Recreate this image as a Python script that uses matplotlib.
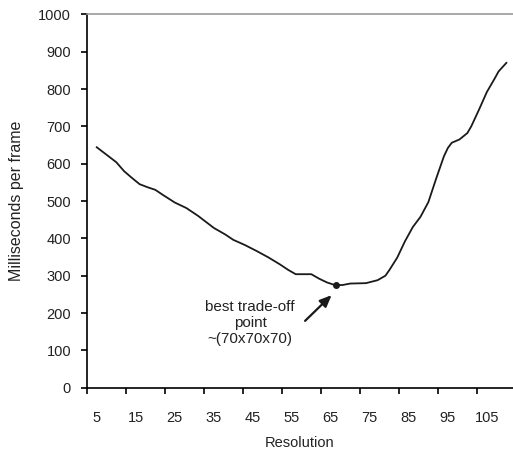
import numpy as np
import matplotlib
matplotlib.use('Agg')
import matplotlib.pyplot as plt

plt.rcParams['font.family'] = ['Liberation Sans', 'DejaVu Sans']

# values (resolution -> ms per frame)
resolution = [5, 7, 10, 12, 14, 16, 18, 20, 22, 25, 28, 31, 35, 38, 40, 43, 46, 49,
              52, 54, 56, 60, 62, 64, 66, 68, 70, 74, 77, 79, 80, 82, 84, 86, 88, 90,
              92, 93, 94, 95, 96, 98, 100, 101, 103, 105, 107, 108, 110]
ms_per_frame = [644, 628, 604, 580, 562, 545, 537, 530, 516, 496, 481, 460, 428, 410,
                396, 382, 366, 349, 330, 316, 304, 304, 292, 282, 275, 275, 279, 280,
                288, 300, 315, 348, 392, 430, 458, 497, 560, 590, 620, 642, 656, 665,
                682, 700, 745, 792, 828, 847, 870]

tick_labels = [5, 15, 25, 35, 45, 55, 65, 75, 85, 95, 105]
best_point = (66.3, 275)

fig = plt.figure(figsize=(5.13, 4.49), dpi=100)
ax = fig.add_axes([0.1696, 0.1365, 0.8304, 0.8316])

ax.plot(resolution, ms_per_frame, color='#1a1a1a', lw=1.3)
ax.plot(*best_point, 'o', color='#1a1a1a', ms=4)

ax.text(44.3, 173, 'best trade-off\npoint\n~(70x70x70)', ha='center', va='center',
        fontsize=11, color='#222222', linespacing=1.15)
ax.annotate('', xy=(65.2, 248), xytext=(58.4, 179),
            arrowprops=dict(arrowstyle='-|>,head_length=0.7,head_width=0.3',
                            color='#1a1a1a', lw=1.6, shrinkA=0, shrinkB=0))

ax.set_xlim(2.5, 111.7)
ax.set_ylim(0, 1000)

ax.set_yticks(np.arange(0, 1001, 100))
ax.tick_params(axis='y', length=4.5, width=1.2, pad=7, labelsize=10.5, labelcolor='#222222')

# category-style axis: tick marks between labels
ax.set_xticks(np.arange(2.5, 111, 10))
ax.set_xticklabels([])
ax.set_xticks(tick_labels, minor=True)
ax.set_xticklabels([str(t) for t in tick_labels], minor=True)
ax.tick_params(axis='x', which='major', length=4.5, width=1.2)
ax.tick_params(axis='x', which='minor', length=0, pad=17, labelsize=10.5, labelcolor='#222222')

ax.spines['right'].set_visible(False)
ax.spines['top'].set_color('#999999')
ax.spines['top'].set_linewidth(1.2)
ax.spines['left'].set_linewidth(1.2)
ax.spines['bottom'].set_linewidth(1.2)

ax.set_xlabel('Resolution', fontsize=10.5, color='#222222', labelpad=8)
ax.set_ylabel('Milliseconds per frame', fontsize=11.5, color='#222222', labelpad=10)

fig.savefig('out.png', dpi=100)
